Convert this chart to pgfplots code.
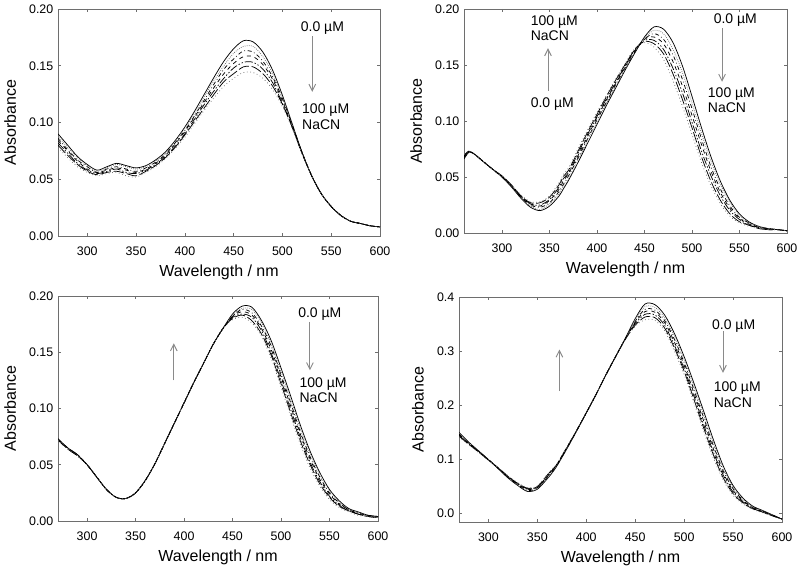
\documentclass[border=0pt]{standalone}
\usepackage{pgfplots}
\pgfplotsset{compat=1.18}
\usepackage{pgfplotstable}
\usepackage{fontspec}
\setmainfont{Liberation Sans}

\pgfplotstableread{
x a b c d e f g
270 .090 .088 .086 .084 .082 .080 .078
280 .080 .078 .076 .075 .073 .071 .069
290 .070 .069 .067 .066 .064 .063 .061
300 .063 .062 .061 .059 .058 .057 .056
310 .058 .057 .056 .056 .055 .054 .053
320 .061 .060 .059 .058 .057 .056 .055
330 .064 .063 .061 .060 .059 .057 .056
340 .062 .061 .059 .058 .056 .055 .053
350 .060 .059 .057 .056 .055 .053 .052
360 .062 .061 .060 .059 .058 .057 .056
370 .067 .066 .065 .064 .063 .062 .061
380 .074 .073 .072 .071 .070 .069 .068
390 .084 .083 .082 .081 .079 .078 .077
400 .096 .095 .093 .092 .090 .089 .087
410 .110 .108 .106 .105 .103 .101 .099
420 .125 .123 .120 .118 .116 .113 .111
430 .140 .137 .134 .131 .128 .125 .122
440 .154 .150 .147 .143 .139 .136 .132
450 .165 .161 .156 .152 .148 .143 .139
460 .172 .167 .163 .158 .153 .149 .144
470 .171 .167 .162 .158 .153 .149 .144
480 .162 .158 .154 .151 .147 .143 .139
490 .146 .143 .140 .138 .135 .132 .129
500 .124 .122 .121 .119 .117 .116 .114
510 .099 .098 .098 .097 .096 .096 .095
520 .074 .074 .074 .074 .073 .073 .073
530 .053 .053 .053 .053 .053 .053 .053
540 .037 .037 .037 .037 .037 .037 .037
550 .026 .026 .026 .026 .026 .026 .026
560 .018 .018 .018 .018 .018 .018 .018
570 .013 .013 .013 .013 .013 .013 .013
580 .011 .011 .011 .011 .011 .011 .011
590 .009 .009 .009 .009 .009 .009 .009
600 .008 .008 .008 .008 .008 .008 .008
}\tabA

\pgfplotstableread{
x a b c d e f g
260 .066 .067 .067 .068 .069 .069 .070
265 .072 .072 .072 .072 .073 .073 .073
270 .071 .071 .071 .071 .071 .071 .071
280 .064 .064 .064 .064 .064 .064 .064
290 .057 .057 .057 .057 .057 .057 .057
300 .050 .050 .050 .050 .051 .051 .051
310 .041 .041 .042 .042 .042 .043 .043
320 .031 .032 .032 .032 .033 .033 .034
330 .023 .024 .025 .026 .026 .027 .028
340 .020 .021 .023 .024 .025 .027 .028
350 .024 .026 .027 .029 .030 .032 .033
360 .033 .035 .037 .039 .041 .043 .045
365 .040 .042 .044 .047 .049 .051 .053
370 .047 .049 .051 .053 .054 .056 .058
380 .063 .065 .067 .069 .071 .073 .075
390 .080 .082 .084 .086 .088 .090 .092
400 .097 .099 .101 .103 .104 .106 .108
410 .114 .116 .117 .119 .120 .122 .123
420 .130 .131 .133 .134 .135 .137 .138
430 .146 .147 .148 .149 .150 .151 .152
440 .161 .162 .162 .163 .164 .164 .165
450 .175 .174 .173 .173 .172 .171 .170
460 .184 .181 .178 .175 .172 .169 .166
470 .182 .178 .173 .169 .164 .160 .155
480 .170 .164 .159 .153 .147 .142 .136
490 .149 .143 .137 .131 .125 .119 .113
500 .122 .116 .111 .105 .099 .094 .088
510 .094 .089 .084 .079 .073 .068 .063
520 .068 .064 .059 .055 .051 .046 .042
530 .046 .043 .039 .036 .033 .029 .026
540 .029 .027 .024 .022 .020 .017 .015
550 .017 .016 .014 .013 .012 .010 .009
560 .010 .009 .009 .008 .007 .007 .006
570 .006 .006 .005 .005 .005 .004 .004
580 .004 .004 .004 .004 .003 .003 .003
590 .003 .003 .003 .003 .003 .003 .003
600 .002 .002 .002 .002 .002 .002 .002
}\tabB

\pgfplotstableread{
x a b c d e f g
270 .073 .073 .073 .073 .072 .072 .072
280 .065 .065 .065 .065 .064 .064 .064
290 .059 .059 .059 .059 .058 .058 .058
300 .050 .050 .050 .050 .050 .050 .050
310 .039 .039 .039 .039 .039 .039 .039
320 .028 .028 .028 .028 .028 .028 .028
330 .021 .021 .021 .021 .021 .021 .021
340 .020 .020 .020 .020 .020 .020 .020
350 .025 .025 .025 .025 .025 .025 .025
360 .036 .036 .036 .036 .036 .036 .036
370 .051 .051 .051 .051 .051 .051 .051
380 .069 .069 .069 .069 .069 .069 .069
390 .087 .087 .087 .087 .087 .087 .087
400 .105 .105 .105 .105 .105 .105 .105
410 .123 .123 .123 .123 .123 .123 .123
420 .140 .140 .140 .140 .140 .140 .140
430 .157 .157 .157 .157 .157 .157 .157
440 .171 .171 .171 .171 .171 .171 .171
450 .184 .183 .182 .182 .181 .180 .179
460 .191 .189 .188 .186 .184 .183 .181
470 .190 .188 .185 .183 .181 .178 .176
480 .178 .176 .173 .171 .169 .166 .164
490 .160 .157 .155 .152 .149 .147 .144
500 .136 .133 .130 .128 .125 .122 .119
510 .111 .108 .105 .102 .099 .096 .093
520 .085 .082 .079 .077 .074 .071 .068
530 .062 .060 .057 .055 .052 .050 .047
540 .043 .041 .039 .037 .035 .033 .031
550 .028 .027 .025 .024 .022 .021 .019
560 .018 .017 .016 .015 .014 .013 .012
570 .011 .010 .010 .010 .009 .009 .008
580 .008 .007 .007 .006 .006 .006 .005
590 .005 .005 .005 .005 .004 .004 .004
600 .004 .004 .004 .004 .003 .003 .003
}\tabC

\pgfplotstableread{
x a b c d e f g
270 .150 .149 .147 .146 .145 .143 .142
280 .132 .131 .130 .130 .129 .128 .127
290 .116 .116 .115 .115 .114 .114 .113
300 .100 .100 .100 .100 .099 .099 .099
310 .083 .083 .084 .084 .084 .085 .085
320 .066 .067 .067 .068 .069 .069 .070
330 .052 .053 .054 .055 .055 .056 .057
340 .041 .042 .043 .045 .046 .047 .048
350 .045 .046 .047 .048 .049 .050 .051
360 .064 .065 .067 .068 .069 .071 .072
365 .075 .076 .077 .079 .080 .081 .082
370 .088 .089 .089 .090 .091 .091 .092
380 .119 .120 .120 .121 .121 .122 .122
390 .152 .152 .152 .153 .153 .153 .153
400 .186 .186 .186 .186 .186 .186 .186
410 .220 .220 .220 .220 .220 .220 .220
420 .256 .256 .256 .256 .256 .256 .256
430 .290 .290 .290 .290 .290 .290 .290
440 .324 .324 .323 .323 .323 .322 .322
450 .360 .358 .355 .353 .351 .348 .346
460 .387 .382 .377 .373 .368 .363 .358
470 .386 .381 .376 .372 .367 .362 .357
480 .367 .362 .357 .353 .348 .343 .338
490 .333 .328 .322 .317 .311 .306 .300
500 .290 .285 .279 .274 .268 .263 .257
510 .241 .235 .229 .223 .217 .211 .205
520 .189 .183 .177 .171 .164 .158 .152
530 .136 .130 .125 .119 .113 .108 .102
540 .088 .084 .079 .075 .071 .066 .062
550 .052 .049 .046 .043 .040 .037 .034
560 .029 .027 .025 .024 .022 .020 .018
570 .014 .013 .012 .011 .010 .009 .008
580 .006 .005 .005 .004 .003 .003 .002
590 -.002 -.002 -.003 -.003 -.003 -.004 -.004
600 -.010 -.010 -.010 -.010 -.010 -.010 -.010
}\tabD

\definecolor{framegray}{HTML}{6E6E6E}
\definecolor{arrowgray}{HTML}{8A8A8A}
\definecolor{dotgray}{HTML}{6A6A6A}
\usetikzlibrary{arrows.meta}

\pgfplotsset{
  spec/.style={
    scale only axis,
    axis line style={framegray, line width=0.6pt},
    tick style={framegray, line width=0.5pt},
    tick align=inside,
    major tick length=2pt,
    xtick={300,350,...,600},
    xmax=600,
    tick label style={font=\fontsize{9.3}{10}\selectfont},
    every x tick label/.append style={yshift=-4.5pt},
    label style={font=\fontsize{12}{14}\selectfont},
    xlabel={Wavelength / nm},
    ylabel={Absorbance},
    ylabel style={yshift=3pt},
    /pgf/number format/assume math mode=true,
    clip=true,
    every axis plot/.append style={smooth, line width=0.55pt, black},
  },
  c0/.style={black, solid},
  c1/.style={dotgray, densely dotted},
  c2/.style={black, dash dot},
  c3/.style={black, dashed},
  c4/.style={black, dash pattern=on 6pt off 1.5pt on 1pt off 1.5pt on 1pt off 1.5pt},
  c5/.style={black, dash pattern=on 8pt off 2pt},
  c6/.style={dotgray, dotted},
}
\newcommand{\sevencurves}[1]{%
  \addplot[c0] table[x=x,y=a] {#1};
  \addplot[c1] table[x=x,y=b] {#1};
  \addplot[c2] table[x=x,y=c] {#1};
  \addplot[c3] table[x=x,y=d] {#1};
  \addplot[c4] table[x=x,y=e] {#1};
  \addplot[c5] table[x=x,y=f] {#1};
  \addplot[c6] table[x=x,y=g] {#1};
}
\tikzset{annot/.style={font=\fontsize{10.5}{11.5}\selectfont, inner sep=0pt},
  garrow/.style={arrowgray, line width=0.7pt, -{Straight Barb[length=5pt,width=5pt]}}}

\begin{document}
\begin{tikzpicture}
\path[use as bounding box] (0,0) rectangle (600pt,429pt);

% panel 1
\begin{axis}[spec, at={(43.5pt,252pt)}, anchor=south west,
  width=241.5pt, height=170.25pt, xmin=270, ymin=0, ymax=0.2,
  ytick={0,0.05,...,0.2},
  yticklabel style={/pgf/number format/.cd, fixed, fixed zerofill, precision=2}]
\sevencurves{\tabA}
\node[annot] at (axis cs:541,0.183) {0.0 µM};
\draw[garrow] (axis cs:530.6,0.176) -- (axis cs:530.6,0.127);
\node[annot, anchor=west, align=left] at (axis cs:520,0.105) {100 µM\\NaCN};
\end{axis}

% panel 2
\begin{axis}[spec, at={(348pt,254.25pt)}, anchor=south west,
  width=242.25pt, height=168pt, xmin=260, ymin=0, ymax=0.2,
  ytick={0,0.05,...,0.2},
  yticklabel style={/pgf/number format/.cd, fixed, fixed zerofill, precision=2}]
\sevencurves{\tabB}
\node[annot, anchor=west, align=left] at (axis cs:330,0.183) {100 µM\\NaCN};
\draw[garrow] (axis cs:348.4,0.127) -- (axis cs:348.4,0.165);
\node[annot] at (axis cs:353,0.115) {0.0 µM};
\node[annot] at (axis cs:545.6,0.190) {0.0 µM};
\draw[garrow] (axis cs:531.6,0.183) -- (axis cs:531.6,0.135);
\node[annot, anchor=west, align=left] at (axis cs:516.5,0.1185) {100 µM\\NaCN};
\end{axis}

% panel 3
\begin{axis}[spec, at={(43.5pt,38.25pt)}, anchor=south west,
  width=240pt, height=168.75pt, xmin=270, ymin=0, ymax=0.2,
  ytick={0,0.05,...,0.2},
  yticklabel style={/pgf/number format/.cd, fixed, fixed zerofill, precision=2}]
\sevencurves{\tabC}
\node[annot] at (axis cs:540,0.184) {0.0 µM};
\draw[garrow] (axis cs:529.8,0.177) -- (axis cs:529.8,0.134);
\node[annot, anchor=west, align=left] at (axis cs:518.8,0.1165) {100 µM\\NaCN};
\draw[garrow] (axis cs:389.4,0.125) -- (axis cs:389.4,0.158);
\end{axis}

% panel 4
\begin{axis}[spec, at={(344.25pt,37.5pt)}, anchor=south west,
  width=242.25pt, height=168.75pt, xmin=270, ymin=-0.0154, ymax=0.4,
  ytick={0,0.1,...,0.4},
  yticklabel style={/pgf/number format/.cd, fixed, fixed zerofill, precision=1}]
\sevencurves{\tabD}
\node[annot] at (axis cs:550.6,0.346) {0.0 µM};
\draw[garrow] (axis cs:539.7,0.337) -- (axis cs:539.7,0.260);
\node[annot, anchor=west, align=left] at (axis cs:530,0.2195) {100 µM\\NaCN};
\draw[garrow] (axis cs:372.6,0.226) -- (axis cs:372.6,0.303);
\end{axis}
\end{tikzpicture}
\end{document}
